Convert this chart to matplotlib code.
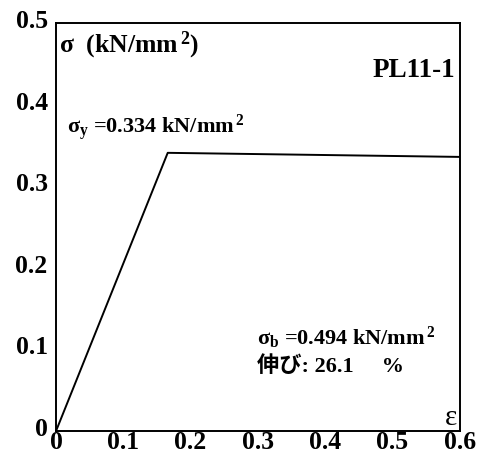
import matplotlib
matplotlib.use("Agg")
import matplotlib.pyplot as plt
import matplotlib.transforms as mtransforms

# ── Data ──────────────────────────────────────────────
strain = [0.0, 0.166, 0.6]
stress = [0.0, 0.341, 0.336]
x_ticks = [0, 0.1, 0.2, 0.3, 0.4, 0.5, 0.6]
y_ticks = [0, 0.1, 0.2, 0.3, 0.4, 0.5]
x_labels = ["0", "0.1", "0.2", "0.3", "0.4", "0.5", "0.6"]
y_labels = ["0", "0.1", "0.2", "0.3", "0.4", "0.5"]
specimen = "PL11-1"
yield_stress = 0.334
max_stress = 0.494
elongation = 26.1

plt.rcParams["font.family"] = ["Liberation Serif", "Noto Sans CJK JP"]
plt.rcParams["font.weight"] = "bold"
plt.rcParams["mathtext.fontset"] = "custom"
plt.rcParams["mathtext.rm"] = "Liberation Serif:bold"
plt.rcParams["mathtext.it"] = "Liberation Serif:bold"

fig = plt.figure(figsize=(4.85, 4.62), dpi=100)
ax = fig.add_axes([0.1155, 0.067, 0.8325, 0.883])

ax.plot(strain, stress, color="black", linewidth=1.4)
ax.set_xlim(0, 0.6)
ax.set_ylim(0, 0.5)
ax.set_xticks(x_ticks)
ax.set_xticklabels(x_labels)
ax.set_yticks(y_ticks)
ax.set_yticklabels(y_labels)
ax.tick_params(length=0, labelsize=18.5)
ax.tick_params(axis="x", pad=0)
ax.tick_params(axis="y", pad=6)
# y labels sit slightly above their gridline in the original
up = mtransforms.ScaledTranslation(0, 3 / 72, fig.dpi_scale_trans)
for lab in ax.get_yticklabels():
    lab.set_transform(lab.get_transform() + up)
for s in ax.spines.values():
    s.set_linewidth(1.4)

sup2 = "$^{\\,\\mathrm{2}}$"
ax.text(0.008, 0.946, "σ  (kN/mm" + sup2 + ")", transform=ax.transAxes,
        fontsize=18.5, va="center", ha="left")
ax.text(0.988, 0.885, specimen, transform=ax.transAxes,
        fontsize=19.5, va="center", ha="right")
ax.text(0.027, 0.743, f"σ$_\\mathrm{{y}}$ ={yield_stress} kN/mm" + sup2,
        transform=ax.transAxes, fontsize=16, va="center", ha="left")
ax.text(0.4975, 0.228, f"σ$_\\mathrm{{b}}$ ={max_stress} kN/mm" + sup2,
        transform=ax.transAxes, fontsize=16, va="center", ha="left")
ax.text(0.4975, 0.157, f"伸び: {elongation}     %",
        transform=ax.transAxes, fontsize=16, va="center", ha="left")
ax.text(0.993, 0.031, "ε", transform=ax.transAxes,
        fontsize=21, fontweight="normal", va="center", ha="right")

fig.savefig("out.png", dpi=100)
